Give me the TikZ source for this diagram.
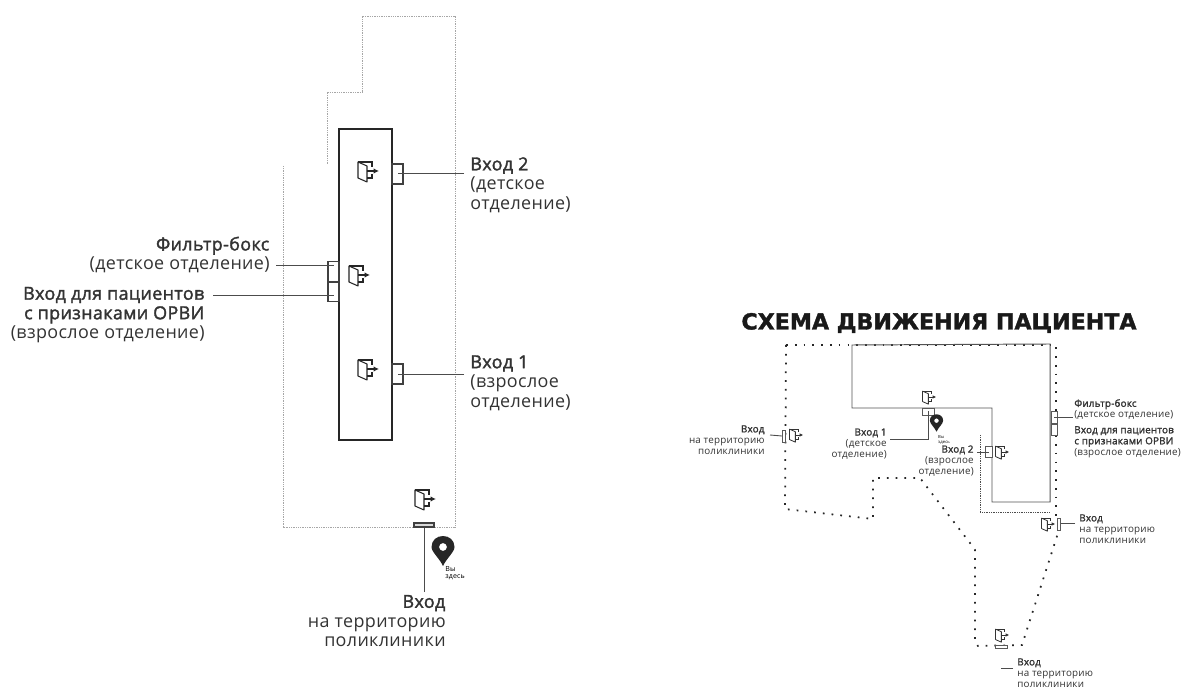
\documentclass[tikz,border=0pt]{standalone}
\usepackage{fontspec}
\setmainfont{Open Sans}[LetterSpace=2,BoldFont={Open Sans},BoldFeatures={FakeBold=1.8}]
\newfontfamily\titlefont{DejaVu Sans}[BoldFeatures={FakeBold=1.6}]
\usetikzlibrary{arrows.meta,positioning}
\tikzset{
  wall/.style={draw=black!85, line width=0.7pt},
  wallthin/.style={draw=black!68, line width=0.55pt},
  gatebox/.style={draw=black!75, fill=white, line width=0.6pt, inner sep=0pt},
  gatesmall/.style={draw=black!65, fill=white, line width=0.4pt, inner sep=0pt},
  leader/.style={draw=black!70, line width=0.5pt},
  fence/.style={draw=black!35, line width=0.5pt, dash pattern=on 0.5pt off 0.5pt},
  fencewide/.style={draw=black!85, line width=1pt, dash pattern=on 1pt off 4pt},
  biglabel/.style={inner sep=0pt, font=\fontsize{10.2}{11.1}\selectfont, text=black!80},
  smalllabel/.style={inner sep=0pt, font=\fontsize{5.6}{6.3}\selectfont, text=black!80},
  door/.pic={
    \draw[draw=black!85, line width=0.6pt, line join=round] (-10,-9) -- (-1,-5) -- (-1,11) -- (-10,7) -- cycle;
    \draw[draw=black!85, line width=0.6pt] (-10,-9) -- (4,-9) -- (4,-4) (4,3) -- (4,7) -- (-1,7);
    \draw[draw=black!85, line width=0.7pt, -{Latex[length=1.1mm,width=1.1mm]}] (-1,0) -- (11,0);
  },
  doorsmall/.pic={
    \draw[draw=black!80, line width=0.45pt, line join=round] (-10,-9) -- (-1,-5) -- (-1,11) -- (-10,7) -- cycle;
    \draw[draw=black!80, line width=0.45pt] (-10,-9) -- (4,-9) -- (4,-4) (4,3) -- (4,7) -- (-1,7);
    \draw[draw=black!80, line width=0.5pt, -{Latex[length=0.7mm,width=0.7mm]}] (-1,0) -- (11,0);
  },
  pin/.pic={
    \fill[black!85, even odd rule] (0,15) .. controls (-3,8) and (-11.5,1) .. (-11.5,-4)
      .. controls (-11.5,-11) and (-6,-15) .. (0,-15)
      .. controls (6,-15) and (11.5,-11) .. (11.5,-4)
      .. controls (11.5,1) and (3,8) .. (0,15) -- cycle
      (0,-4) circle[radius=4];
  }
}
\begin{document}
\begin{tikzpicture}[x=0.02cm, y=-0.02cm]
  \useasboundingbox (0,0) rectangle (1189,688);

  % left plan
  \draw[fence] (283,166) -- (283,527) -- (455,527) -- (455,16) -- (362,16) -- (362,92) -- (327,92) -- (327,165);
  \node[wall, fill=white, minimum width=1.06cm, minimum height=6.22cm, inner sep=0pt] (block) at (365.5,284.5) {};
  \node[gatebox, minimum width=0.22cm, minimum height=0.4cm] (gatetwo) at (397.5,174) {};
  \node[gatebox, minimum width=0.22cm, minimum height=0.4cm] (gateone) at (397.5,374) {};
  \node[gatebox, minimum width=0.22cm, minimum height=0.39cm] (filter) at (333.5,271.5) {};
  \node[gatebox, minimum width=0.22cm, minimum height=0.39cm, below=0pt of filter] (orvi) {};
  \node[gatebox, fill=black!15, minimum width=0.4cm, minimum height=0.08cm] (gate) at (424,525) {};

  \pic at (368,171) {door};
  \pic at (359,275) {door};
  \pic at (368,369) {door};
  \pic at (425,499) {door};
  \pic at (443,551) {pin};

  \node[biglabel, anchor=west, align=left] (lbltwo) at (470,185) {\textbf{Вход 2}\\(детское\\отделение)};
  \node[biglabel, anchor=west, align=left] (lblone) at (470,383) {\textbf{Вход 1}\\(взрослое\\отделение)};
  \node[biglabel, anchor=east, align=right] (lblfilter) at (270,255) {\textbf{Фильтр-бокс}\\(детское отделение)};
  \node[biglabel, anchor=east, align=right] (lblorvi) at (205,315) {\textbf{Вход для пациентов}\\\textbf{с признаками ОРВИ}\\(взрослое отделение)};
  \node[biglabel, anchor=east, align=right] (lblgate) at (446,621) {\textbf{Вход}\\на территорию\\поликлиники};
  \node[inner sep=0pt, anchor=north west, align=left, font=\fontsize{4}{4}\selectfont] (here) at (445,566) {Вы\\здесь};

  \coordinate (ktwo) at (464,173);
  \coordinate (kone) at (464,374);
  \coordinate (kfilter) at (276,265);
  \coordinate (korvi) at (213,295);
  \coordinate (kgate) at (424,592);
  \draw[leader] (ktwo) -- (ktwo -| gatetwo.center);
  \draw[leader] (kone) -- (kone -| gateone.center);
  \draw[leader] (kfilter) -- (kfilter -| filter.center);
  \draw[leader] (korvi) -- (korvi -| orvi.center);
  \draw[leader] (kgate) -- (gate.south);

  % right plan
  \node[inner sep=0pt, font=\titlefont\bfseries\fontsize{12.6}{14}\selectfont, text=black!90] (title) at (939,323) {СХЕМА ДВИЖЕНИЯ ПАЦИЕНТА};

  \draw[fencewide] (786,345) -- (1056,345) -- (1056,522);
  \draw[fencewide] (786,345) -- (785,509) -- (873,519) -- (873,478) -- (920,478) -- (970,543) -- (975,550) -- (975,642) -- (978,646) -- (1022,645) -- (1058,533);
  \draw[fence, draw=black!70] (980,435) -- (980,512) -- (1050,512);
  \draw[wallthin] (852,345) -- (1050,344) -- (1050,502) -- (992,502) -- (992,408) -- (852,408) -- cycle;

  \node[gatesmall, minimum width=0.24cm, minimum height=0.14cm] (gatekids) at (928,411.5) {};
  \node[gatesmall, minimum width=0.14cm, minimum height=0.22cm] (gateadult) at (988.5,451.5) {};
  \node[gatesmall, minimum width=0.12cm, minimum height=0.23cm] (filtersm) at (1054,417.5) {};
  \node[gatesmall, minimum width=0.12cm, minimum height=0.23cm, below=0pt of filtersm] (orvism) {};
  \node[gatesmall, minimum width=0.07cm, minimum height=0.24cm] (gatewest) at (784,436) {};
  \node[gatesmall, minimum width=0.07cm, minimum height=0.24cm] (gateeast) at (1059,524) {};
  \node[gatesmall, minimum width=0.24cm, minimum height=0.05cm] (gatesouth) at (1001,647) {};

  \pic[scale=0.65] at (929,397) {doorsmall};
  \pic[scale=0.65] at (1002,452) {doorsmall};
  \pic[scale=0.65] at (796,435) {doorsmall};
  \pic[scale=0.65] at (1048,524) {doorsmall};
  \pic[scale=0.65] at (1002,635) {doorsmall};
  \pic[scale=0.58] at (936.5,423) {pin};

  \node[smalllabel, anchor=east, align=right] (lblwest) at (765,440) {\textbf{Вход}\\на территорию\\поликлиники};
  \node[smalllabel, anchor=east, align=right] (lblkids) at (887,444) {\textbf{Вход 1}\\(детское\\отделение)};
  \node[smalllabel, anchor=east, align=right] (lbladult) at (974,461) {\textbf{Вход 2}\\(взрослое\\отделение)};
  \node[smalllabel, anchor=west, align=left] (lblfiltersm) at (1074,409.5) {\textbf{Фильтр-бокс}\\(детское отделение)};
  \node[smalllabel, anchor=west, align=left] (lblorvism) at (1074,442) {\textbf{Вход для пациентов}\\\textbf{с признаками ОРВИ}\\(взрослое отделение)};
  \node[smalllabel, anchor=west, align=left] (lbleast) at (1079,529) {\textbf{Вход}\\на территорию\\поликлиники};
  \node[smalllabel, anchor=west, align=left] (lblsouth) at (1017,673) {\textbf{Вход}\\на территорию\\поликлиники};
  \node[inner sep=0pt, font=\fontsize{2.4}{2.6}\selectfont, align=left] (heresm) at (944,440) {Вы\\здесь};

  \coordinate (kwest) at (770,435);
  \coordinate (kkids) at (890,439);
  \coordinate (kadult) at (977,452);
  \coordinate (kfiltersm) at (1073,417);
  \coordinate (keast) at (1075,523);
  \coordinate (ksouth) at (1013,668);
  \coordinate (ksouthb) at (1001,668);
  \draw[leader] (kwest) -- (gatewest.west);
  \draw[leader] (kkids) -- (kkids -| gatekids.center) -- (gatekids.center);
  \draw[leader] (kadult) -- (kadult -| gateadult.center);
  \draw[leader] (kfiltersm) -- (kfiltersm -| filtersm.center);
  \draw[leader] (keast) -- (keast -| gateeast.east);
  \draw[leader] (ksouth) -- (ksouthb);
\end{tikzpicture}
\end{document}
